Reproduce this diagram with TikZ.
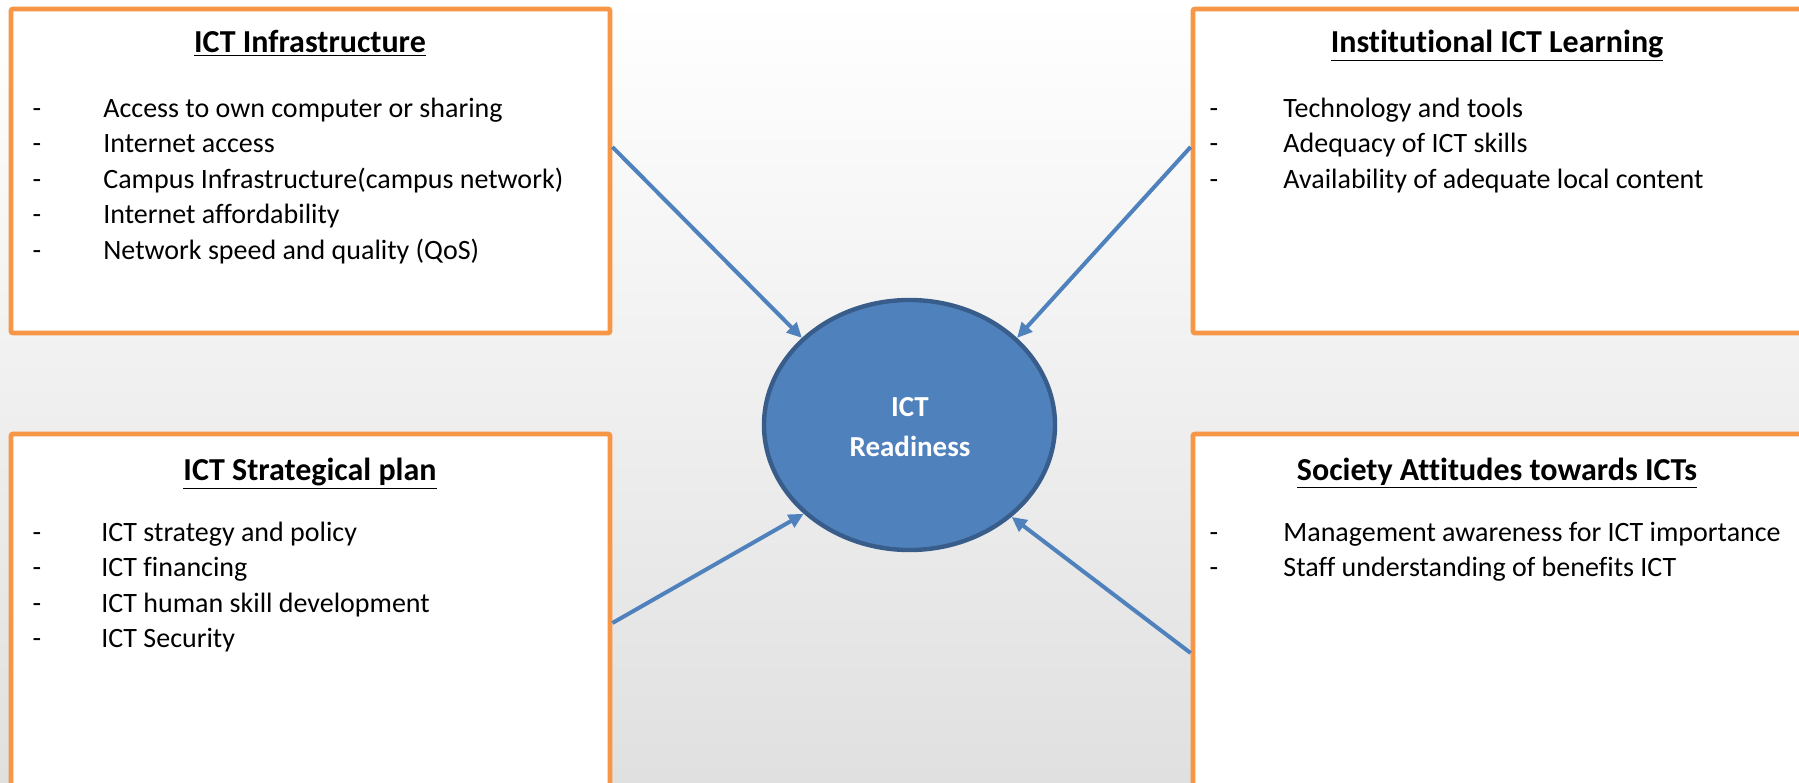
\documentclass[tikz,border=0pt]{standalone}
\usepackage{fontspec}
\setmainfont{Carlito}[Ligatures={NoCommon,NoContextual}, Contextuals=NoAlternate]
\usetikzlibrary{arrows.meta,shapes.geometric}
\definecolor{boxorange}{RGB}{247,150,70}
\definecolor{linkblue}{RGB}{79,129,189}
\definecolor{ringblue}{RGB}{56,93,138}
\definecolor{bgbottom}{RGB}{224,224,224}

\begin{document}
\begin{tikzpicture}[x=0.5pt, y=-0.5pt,
    panel/.style={draw=boxorange, line width=2.4pt, fill=white, rounded corners=1pt, minimum width=299.5pt, minimum height=162pt, inner sep=0pt},
    heading/.style={font=\fontsize{16}{19}\selectfont\bfseries, anchor=base, inner sep=0pt},
    bullet/.style={font=\fontsize{14}{17}\selectfont, anchor=base, inner sep=0pt},
    entry/.style={font=\fontsize{14}{17}\selectfont, anchor=base west, inner sep=0pt},
    centretext/.style={font=\fontsize{14.5}{17}\selectfont\bfseries, text=white, anchor=base, inner sep=0pt},
    link/.style={draw=linkblue, line width=2pt, -{Triangle[length=7.5pt, width=7pt]}}]

    % Background
    \useasboundingbox (0,0) rectangle (1799,782);
    \clip (0,0) rectangle (1799,782);
    \shade[top color=white, bottom color=bgbottom] (0,0) rectangle (1799,782);

    % Boxes
    \node[panel] (infra) at (310.5,171) {};
    \node[panel, minimum width=308.5pt] (learning) at (1501.5,171) {};
    \node[panel, minimum height=183pt] (plan) at (310.5,617) {};
    \node[panel, minimum width=308.5pt, minimum height=183pt] (society) at (1501.5,617) {};

    % ICT Readiness
    \node[ellipse, fill=linkblue, draw=ringblue, line width=2.2pt, minimum width=145.5pt, minimum height=125pt] (ready) at (909.5,425) {};
    \node[centretext] (readytop) at (910,416.5) {ICT};
    \node[centretext] (readybottom) at (910,456.5) {Readiness};

    % ICT Infrastructure
    \node[heading] (infratitle) at (310,52) {\underline{ICT Infrastructure}};
    \foreach \txt [count=\i] in {Access to own computer or sharing, Internet access, Campus Infrastructure(campus network), Internet affordability, Network speed and quality (QoS)} {
        \node[bullet] (infradash\i) at (37, {117+35.5*(\i-1)}) {-};
        \node[entry] (infraitem\i) at (103, {117+35.5*(\i-1)}) {\txt};
    }

    % Institutional ICT Learning
    \node[heading] (learningtitle) at (1497,52) {\underline{Institutional ICT Learning}};
    \foreach \txt [count=\i] in {Technology and tools, Adequacy of ICT skills, Availability of adequate local content} {
        \node[bullet] (learningdash\i) at (1214, {117+35.5*(\i-1)}) {-};
        \node[entry] (learningitem\i) at (1283, {117+35.5*(\i-1)}) {\txt};
    }

    % ICT Strategical plan
    \node[heading] (plantitle) at (310,480) {\underline{ICT Strategical plan}};
    \foreach \txt [count=\i] in {ICT strategy and policy, ICT financing, ICT human skill development, ICT Security} {
        \node[bullet] (plandash\i) at (37, {541+35.5*(\i-1)}) {-};
        \node[entry] (planitem\i) at (101, {541+35.5*(\i-1)}) {\txt};
    }

    % Society Attitudes towards ICTs
    \node[heading] (societytitle) at (1497,480) {\underline{Society Attitudes towards ICTs}};
    \foreach \txt [count=\i] in {Management awareness for ICT importance, Staff understanding of benefits ICT} {
        \node[bullet] (societydash\i) at (1214, {541+35.5*(\i-1)}) {-};
        \node[entry] (societyitem\i) at (1283, {541+35.5*(\i-1)}) {\txt};
    }

    % Arrows
    \coordinate (infraout) at (infra.east |- 0,147);
    \coordinate (learningout) at (learning.west |- 0,147);
    \coordinate (planout) at (plan.east |- 0,623);
    \coordinate (societyout) at (society.west |- 0,653);
    \draw[link] (infraout) -- (ready.141);
    \draw[link] (learningout) -- (ready.39);
    \draw[link] (planout) -- (ready.220);
    \draw[link] (societyout) -- (ready.-42);
\end{tikzpicture}
\end{document}
